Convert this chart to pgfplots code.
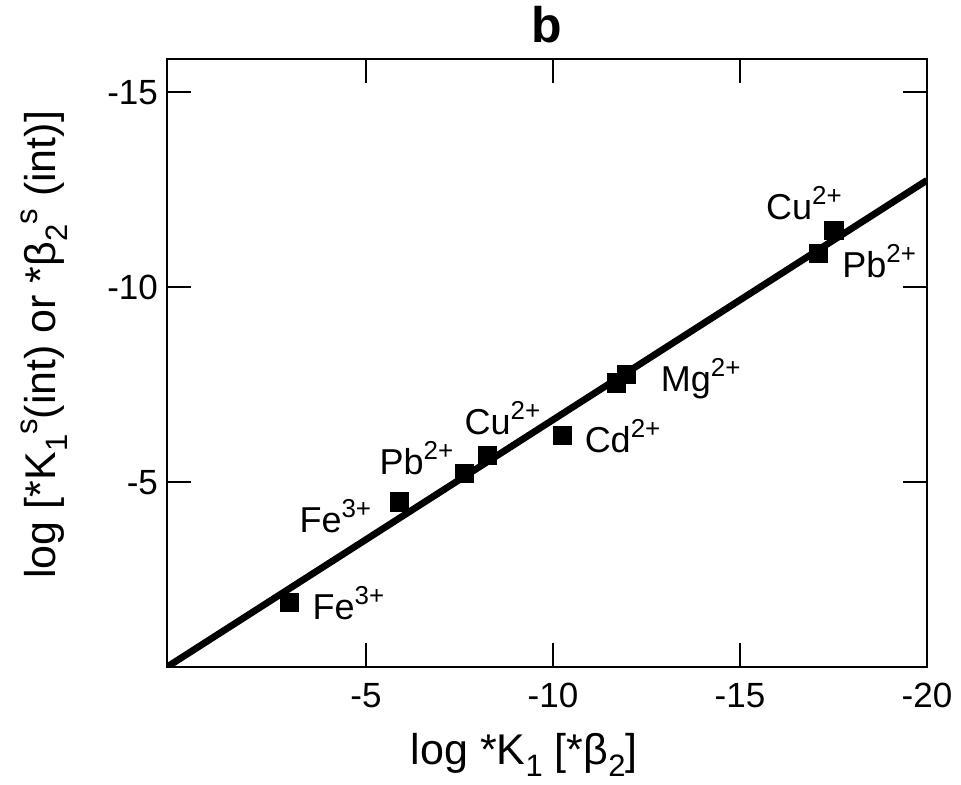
\documentclass[border=0pt]{standalone}
\usepackage{fontspec}
\setmainfont{Liberation Sans}
\usepackage{graphicx}
\usepackage{pgfplots}
\pgfplotsset{compat=1.18}

\newcommand\sub[1]{\raisebox{-0.28em}{\scalebox{0.72}{#1}}}
\newcommand\sups[1]{\raisebox{0.42em}{\scalebox{0.72}{#1}}}

\begin{document}
\begin{tikzpicture}
\begin{axis}[
    scale only axis,
    width=380pt, height=304pt,
    x dir=reverse, y dir=reverse,
    xmin=-20, xmax=0.32,
    ymin=-15.85, ymax=-0.26,
    xtick={-5,-10,-15,-20},
    ytick={-5,-10,-15},
    tick align=inside,
    major tick length=12pt,
    axis line style={line width=1.3pt},
    every tick/.style={line width=1pt, black},
    /pgf/number format/assume math mode=true,
    tick label style={font=\fontsize{17.5}{20}\selectfont},
    xticklabel style={yshift=-4.5pt},
    yticklabel style={xshift=-1pt},
    title={\textbf{b}},
    title style={font=\fontsize{25}{28}\selectfont, inner sep=0pt, at={(0.5,1)}, anchor=south, yshift=2pt},
    xlabel={log *K\sub{1} [*β\sub{2}]},
    xlabel style={font=\fontsize{21.5}{24}\selectfont, inner sep=0pt,
        at={(axis description cs:0.47,0)}, anchor=north, yshift=-33pt},
    ylabel={log [*K\sub{1}\sups{s}(int) or *β\sub{2}\sups{s} (int)]},
    ylabel style={font=\fontsize{21.5}{24}\selectfont, inner sep=0pt,
        at={(axis description cs:-0.13,0.53)}, anchor=south},
    clip=true,
]
% fitted line
\addplot[black, line width=3.4pt, no marks] coordinates {(0.32,-0.26) (-20,-12.74)};
% measured points
\addplot[only marks, mark=square*, mark size=4.6pt, black] coordinates {
    (-2.95,-1.92) (-5.89,-4.49) (-7.63,-5.23) (-8.25,-5.69)
    (-10.26,-6.20) (-11.70,-7.54) (-11.97,-7.77)
    (-17.09,-10.87) (-17.51,-11.46)
};
\begin{scope}[every node/.style={font=\fontsize{18}{20}\selectfont, inner sep=0pt}]
\node at (axis cs:-4.53,-1.90) {Fe\sups{3+}};
\node at (axis cs:-4.18,-4.13) {Fe\sups{3+}};
\node at (axis cs:-6.35,-5.61) {Pb\sups{2+}};
\node at (axis cs:-8.65,-6.64) {Cu\sups{2+}};
\node at (axis cs:-11.86,-6.18) {Cd\sups{2+}};
\node at (axis cs:-13.95,-7.66) {Mg\sups{2+}};
\node at (axis cs:-16.71,-12.15) {Cu\sups{2+}};
\node at (axis cs:-18.72,-10.66) {Pb\sups{2+}};
\end{scope}
\end{axis}
\path ([xshift=-83.5pt,yshift=-59pt]current axis.south west) rectangle ([xshift=17pt,yshift=29.5pt]current axis.north east);
\end{tikzpicture}
\end{document}
